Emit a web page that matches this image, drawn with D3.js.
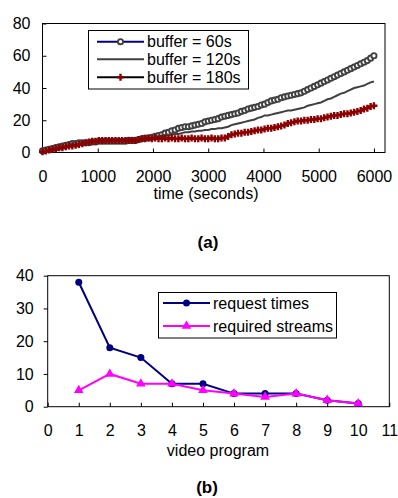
<!DOCTYPE html>
<html>
<head>
<meta charset="UTF-8">
<title>buffer / video program</title>
<script src="https://d3js.org/d3.v7.min.js"></script>
<style>
  body { margin: 0; background: #fff; }
  svg { display: block; font-family: "Liberation Sans", Arial, sans-serif; }
  text { fill: #000; }
</style>
</head>
<body>
<div id="chart"></div>
<script>
// ---- panel (a): samples every 60 s ----
const sampleTimes = d3.range(0, 6001, 60);
const buffer60 = [
  1, 1.5, 2, 2.5, 3, 3.5, 4, 4.5, 5, 5.5, 5.5, 6, 6, 6, 6, 6.5, 6.5, 7, 7, 7,
  7, 7, 7, 7, 7, 7, 7.5, 7.5, 7.5, 8, 8.5, 9, 9, 9.5, 10, 10.5, 11, 12, 12.5, 13.5,
  14, 15, 15.5, 16, 16, 16.5, 17, 17.5, 18, 19, 19.5, 20, 20.5, 21, 22, 22.5, 23, 23.5, 24, 24.5,
  25.5, 26, 27, 27.5, 28, 28.5, 29.5, 30, 31, 32, 32.5, 33, 34, 34.5, 35, 35.5, 36, 36.5, 37, 38,
  39, 40, 41, 42, 43, 44, 45, 46, 47, 48, 49, 50, 51, 52, 53, 54, 55, 56, 57, 58.5,
  60
];
const buffer120 = [
  0.5, 1, 1.5, 2, 2.5, 3, 3.5, 4, 4.5, 5, 5, 5.5, 5.5, 6, 6, 6, 6.5, 6.5, 7, 7,
  7, 7, 7, 7, 7, 7, 7, 7, 7.5, 7.5, 8, 8.5, 8.5, 9, 9.5, 10, 10.5, 10.5, 11, 11,
  11.5, 11.5, 12, 12.5, 12.5, 13, 13, 13.5, 13.5, 14, 14, 14.5, 14.5, 15, 15, 15.5, 16, 17, 17.5, 18,
  18.5, 19, 19.5, 20, 20.5, 21.5, 22, 23, 23, 23.5, 24, 24.5, 25, 25.5, 26, 26, 26.5, 27, 27.5, 28,
  29, 29.5, 30, 30.5, 31, 32, 33, 33.5, 34.5, 35.5, 36.5, 37, 38, 39, 40, 40.5, 41, 41.5, 42.5, 43.5,
  44
];
const buffer180 = [
  0.5, 1, 1.5, 2, 2.5, 3, 3, 3.5, 4, 4, 4.5, 5, 5.5, 6, 6.5, 7, 7, 7.5, 7.5, 7.5,
  7.5, 7.5, 7.5, 7.5, 7.5, 7.5, 7.5, 7.5, 7.5, 8, 8.5, 8.5, 9, 8.5, 9, 8.5, 8.5, 9, 8.5, 9,
  8.5, 8.5, 9, 8.5, 8.5, 9, 8.5, 8.5, 9, 8.5, 8.5, 9, 8.5, 8.5, 9, 9, 10, 11, 11.5, 12,
  12, 12.5, 12.5, 13, 13.5, 14, 14, 14.5, 15, 15, 15.5, 16, 16.5, 17, 18, 18.5, 19, 19.5, 19.5, 20,
  20, 20.5, 20.5, 21, 21, 21.5, 22, 22.5, 23, 23, 23.5, 24, 24, 24.5, 25, 25.5, 26, 27, 27.5, 28.5,
  29
];
const timeTicks = [0, 1000, 2000, 3000, 4000, 5000, 6000];
const countTicksA = [0, 20, 40, 60, 80];
const legendA = ["buffer = 60s", "buffer = 120s", "buffer = 180s"];

// ---- panel (b) ----
const programs = [1, 2, 3, 4, 5, 6, 7, 8, 9, 10];
const requestTimes = [38, 18, 15, 7, 7, 4, 4, 4, 2, 1];
const requiredStreams = [5, 10, 7, 7, 5, 4, 3, 4, 2, 1];
const programTicks = [0, 1, 2, 3, 4, 5, 6, 7, 8, 9, 10, 11];
const countTicksB = [0, 10, 20, 30, 40];
const legendB = ["request times", "required streams"];

const W = 398, H = 498, fs = 16;
const svg = d3.select("#chart").append("svg").attr("width", W).attr("height", H);

// ================= (a) =================
const xa = d3.scaleLinear().domain([0, 6200]).range([42.5, 385]);
const ya = d3.scaleLinear().domain([0, 80]).range([152.5, 23.5]);
const ga = svg.append("g");

ga.append("g").attr("transform", `translate(0,${ya(0)})`)
  .call(d3.axisBottom(xa).tickValues(timeTicks).tickFormat(d3.format("d"))
    .tickSizeInner(-4).tickSizeOuter(0).tickPadding(18))
  .call(g => g.select(".domain").remove());
ga.append("g").attr("transform", `translate(${xa(0)},0)`)
  .call(d3.axisLeft(ya).tickValues(countTicksA).tickSizeInner(-4).tickSizeOuter(0).tickPadding(12))
  .call(g => g.select(".domain").remove());
ga.selectAll(".tick text").attr("font-size", fs).attr("font-family", "Liberation Sans, Arial");
ga.selectAll(".tick line").attr("stroke", "#000");

ga.append("rect")
  .attr("x", xa(0)).attr("y", ya(80))
  .attr("width", xa(6200) - xa(0)).attr("height", ya(0) - ya(80))
  .attr("fill", "none").attr("stroke", "#000").attr("stroke-width", 1);

const lineA = d3.line().x((d, i) => xa(sampleTimes[i])).y(d => ya(d));
const plusPath = "M-3.5,0H3.5M0,-3.5V3.5";

// 60 s
ga.append("path").datum(buffer60).attr("d", lineA)
  .attr("fill", "none").attr("stroke", "#000080").attr("stroke-width", 1.5);
ga.append("g").selectAll("circle").data(buffer60).join("circle")
  .attr("cx", (d, i) => xa(sampleTimes[i])).attr("cy", d => ya(d)).attr("r", 2.6)
  .attr("fill", "#fff").attr("stroke", "#404040").attr("stroke-width", 1.9);
// 120 s
ga.append("path").datum(buffer120).attr("d", lineA)
  .attr("fill", "none").attr("stroke", "#404040").attr("stroke-width", 2);
// 180 s (drawn last, on top)
ga.append("path").datum(buffer180).attr("d", lineA)
  .attr("fill", "none").attr("stroke", "#000").attr("stroke-width", 1.5);
ga.append("g").selectAll("path").data(buffer180).join("path")
  .attr("transform", (d, i) => `translate(${xa(sampleTimes[i])},${ya(d)})`)
  .attr("d", plusPath).attr("stroke", "#8b0000").attr("stroke-width", 2.4);

// legend (a)
const lga = ga.append("g");
lga.append("rect").attr("x", 88.5).attr("y", 30.5).attr("width", 160).attr("height", 58.5)
  .attr("fill", "#fff").attr("stroke", "#000");
const rowsA = [41.7, 59.3, 77.3];
const legColA = ["#000080", "#404040", "#000"];
legendA.forEach((t, i) => {
  lga.append("line").attr("x1", 97).attr("x2", 144).attr("y1", rowsA[i]).attr("y2", rowsA[i])
    .attr("stroke", legColA[i]).attr("stroke-width", 2);
  lga.append("text").attr("x", 147).attr("y", rowsA[i] + 5.5).attr("font-size", fs).text(t);
});
lga.append("circle").attr("cx", 120.5).attr("cy", rowsA[0]).attr("r", 2.6)
  .attr("fill", "#fff").attr("stroke", "#404040").attr("stroke-width", 1.9);
lga.append("path").attr("transform", `translate(120.5,${rowsA[2]})`).attr("d", plusPath)
  .attr("stroke", "#8b0000").attr("stroke-width", 2.4);

ga.append("text").attr("x", 206).attr("y", 198.5).attr("text-anchor", "middle")
  .attr("font-size", fs).text("time (seconds)");
svg.append("text").attr("x", 208).attr("y", 248).attr("text-anchor", "middle")
  .attr("font-size", 17).attr("font-weight", "bold").text("(a)");

// ================= (b) =================
const xb = d3.scaleLinear().domain([0, 11]).range([47.7, 389.3]);
const yb = d3.scaleLinear().domain([0, 40]).range([406.7, 275.7]);
const gb = svg.append("g");

gb.append("g").attr("transform", `translate(0,${yb(0)})`)
  .call(d3.axisBottom(xb).tickValues(programTicks).tickSizeInner(-4).tickSizeOuter(0).tickPadding(18))
  .call(g => g.select(".domain").remove());
gb.append("g").attr("transform", `translate(${xb(0)},0)`)
  .call(d3.axisLeft(yb).tickValues(countTicksB).tickSizeInner(4).tickSizeOuter(0).tickPadding(10))
  .call(g => g.select(".domain").remove());
gb.selectAll(".tick text").attr("font-size", fs).attr("font-family", "Liberation Sans, Arial");
gb.selectAll(".tick line").attr("stroke", "#000");

gb.append("rect")
  .attr("x", xb(0)).attr("y", yb(40))
  .attr("width", xb(11) - xb(0)).attr("height", yb(0) - yb(40))
  .attr("fill", "none").attr("stroke", "#000").attr("stroke-width", 1);

const lineB = d3.line().x((d, i) => xb(programs[i])).y(d => yb(d));
const tri = d3.symbol(d3.symbolTriangle, 40);

gb.append("path").datum(requestTimes).attr("d", lineB)
  .attr("fill", "none").attr("stroke", "#000080").attr("stroke-width", 2);
gb.append("g").selectAll("circle").data(requestTimes).join("circle")
  .attr("cx", (d, i) => xb(programs[i])).attr("cy", d => yb(d)).attr("r", 3.5)
  .attr("fill", "#000080");

gb.append("path").datum(requiredStreams).attr("d", lineB)
  .attr("fill", "none").attr("stroke", "#ff00ff").attr("stroke-width", 2);
gb.append("g").selectAll("path").data(requiredStreams).join("path")
  .attr("transform", (d, i) => `translate(${xb(programs[i])},${yb(d)})`)
  .attr("d", tri).attr("fill", "#ff00ff");

// legend (b)
const lgb = gb.append("g");
lgb.append("rect").attr("x", 158.5).attr("y", 292.5).attr("width", 178).attr("height", 45.5)
  .attr("fill", "#fff").attr("stroke", "#000");
const rowsB = [303, 326];
const legColB = ["#000080", "#ff00ff"];
legendB.forEach((t, i) => {
  lgb.append("line").attr("x1", 163).attr("x2", 210).attr("y1", rowsB[i]).attr("y2", rowsB[i])
    .attr("stroke", legColB[i]).attr("stroke-width", 2);
  lgb.append("text").attr("x", 213).attr("y", rowsB[i] + 5.5).attr("font-size", fs).text(t);
});
lgb.append("circle").attr("cx", 186.5).attr("cy", rowsB[0]).attr("r", 3.5).attr("fill", "#000080");
lgb.append("path").attr("transform", `translate(186.5,${rowsB[1]})`).attr("d", tri).attr("fill", "#ff00ff");

gb.append("text").attr("x", 218).attr("y", 455.5).attr("text-anchor", "middle")
  .attr("font-size", fs).text("video program");
svg.append("text").attr("x", 207).attr("y", 493).attr("text-anchor", "middle")
  .attr("font-size", 17).attr("font-weight", "bold").text("(b)");
</script>
</body>
</html>
